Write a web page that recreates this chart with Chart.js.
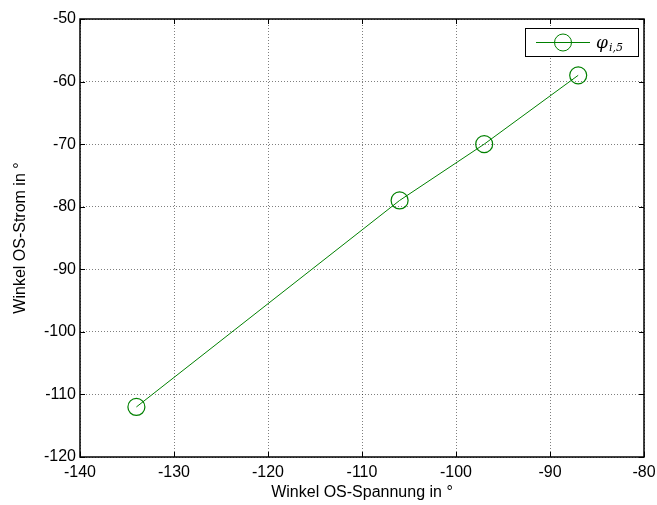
<!DOCTYPE html>
<html>
<head>
<meta charset="utf-8">
<script src="https://cdn.jsdelivr.net/npm/chart.js@4/dist/chart.umd.min.js"></script>
<style>
  html, body { margin: 0; padding: 0; background: #fff; }
  #wrap { width: 657px; height: 505px; }
</style>
</head>
<body>
<div id="wrap"><canvas id="c" width="657" height="505"></canvas></div>
<script>
// Phase angle of the HV current versus phase angle of the HV voltage
const spannungWinkel = [-134, -106, -97, -87];
const stromWinkel = [-112, -79, -70, -59];
const xTicks = [-140, -130, -120, -110, -100, -90, -80];
const yTicks = [-120, -110, -100, -90, -80, -70, -60, -50];
const legendSymbol = 'φ';
const legendSub = 'i,5';
const xTitle = 'Winkel OS-Spannung in °';
const yTitle = 'Winkel OS-Strom in °';

const GREEN = '#008000';
const FONT = "'Liberation Sans', Arial, sans-serif";

// Axes box with inward ticks on all four sides, plus the legend
const framePlugin = {
  id: 'frame',
  afterDatasetsDraw(chart) {
    const { ctx, chartArea: a, scales } = chart;
    ctx.save();
    ctx.strokeStyle = '#000';
    ctx.lineWidth = 1;
    const tl = 5;
    ctx.beginPath();
    scales.x.ticks.forEach(t => {
      const px = Math.round(scales.x.getPixelForValue(t.value)) + 0.5;
      ctx.moveTo(px, a.bottom); ctx.lineTo(px, a.bottom - tl);
      ctx.moveTo(px, a.top); ctx.lineTo(px, a.top + tl);
    });
    scales.y.ticks.forEach(t => {
      const py = Math.round(scales.y.getPixelForValue(t.value)) + 0.5;
      ctx.moveTo(a.left, py); ctx.lineTo(a.left + tl, py);
      ctx.moveTo(a.right, py); ctx.lineTo(a.right - tl, py);
    });
    ctx.stroke();
    ctx.lineWidth = 1.5;
    ctx.strokeRect(a.left, a.top, a.right - a.left, a.bottom - a.top);

    // legend
    const lx = 525, ly = 28.5, lw = 113, lh = 28;
    ctx.fillStyle = '#fff';
    ctx.fillRect(lx, ly, lw, lh);
    ctx.lineWidth = 1;
    ctx.strokeStyle = '#000';
    ctx.strokeRect(lx + 0.5, ly, lw, lh);
    const cy = ly + lh / 2;
    ctx.strokeStyle = GREEN;
    ctx.beginPath();
    ctx.moveTo(536, cy); ctx.lineTo(590, cy);
    ctx.stroke();
    ctx.beginPath();
    ctx.arc(563, cy, 8.5, 0, Math.PI * 2);
    ctx.stroke();
    ctx.fillStyle = '#000';
    ctx.textBaseline = 'alphabetic';
    ctx.font = "italic 17px 'DejaVu Serif', 'Liberation Serif', serif";
    ctx.fillText(legendSymbol, 596, cy + 5);
    const w = ctx.measureText(legendSymbol).width;
    ctx.font = "italic 11px 'DejaVu Serif', 'Liberation Serif', serif";
    ctx.fillText(legendSub, 596 + w + 1, cy + 8);
    ctx.restore();
  }
};

new Chart(document.getElementById('c'), {
  type: 'line',
  data: {
    datasets: [{
      label: legendSymbol + legendSub,
      data: spannungWinkel.map((x, i) => ({ x, y: stromWinkel[i] })),
      borderColor: GREEN,
      backgroundColor: 'rgba(0,0,0,0)',
      borderWidth: 1,
      pointStyle: 'circle',
      pointRadius: 8.5,
      pointBorderWidth: 1.2,
      pointBorderColor: GREEN,
      pointBackgroundColor: 'rgba(0,0,0,0)',
      tension: 0,
      fill: false
    }]
  },
  options: {
    responsive: false,
    animation: false,
    events: [],
    layout: { padding: { top: 19, right: 13, left: 0, bottom: 0 } },
    plugins: { legend: { display: false }, tooltip: { enabled: false } },
    scales: {
      x: {
        type: 'linear',
        min: xTicks[0],
        max: xTicks[xTicks.length - 1],
        afterBuildTicks(s) { s.ticks = xTicks.map(v => ({ value: v })); },
        afterFit(s) { s.height = 48; s.paddingLeft = 0; s.paddingRight = 0; },
        grid: { color: 'rgba(0,0,0,0.5)', lineWidth: 1, drawTicks: false },
        border: { display: false, dash: [1, 2] },
        ticks: { color: '#000', padding: 6, font: { family: FONT, size: 16 }, maxRotation: 0 },
        title: { display: true, text: xTitle, color: '#000', font: { family: FONT, size: 16 }, padding: { top: 0, bottom: 3 } }
      },
      y: {
        type: 'linear',
        min: yTicks[0],
        max: yTicks[yTicks.length - 1],
        afterBuildTicks(s) { s.ticks = yTicks.map(v => ({ value: v })); },
        afterFit(s) { s.width = 80; s.paddingTop = 0; s.paddingBottom = 0; },
        grid: { color: 'rgba(0,0,0,0.5)', lineWidth: 1, drawTicks: false },
        border: { display: false, dash: [1, 2] },
        ticks: { color: '#000', padding: 4, font: { family: FONT, size: 16 } },
        title: { display: true, text: yTitle, color: '#000', font: { family: FONT, size: 16 }, padding: { top: 11, bottom: 0 } }
      }
    }
  },
  plugins: [framePlugin]
});
</script>
</body>
</html>
